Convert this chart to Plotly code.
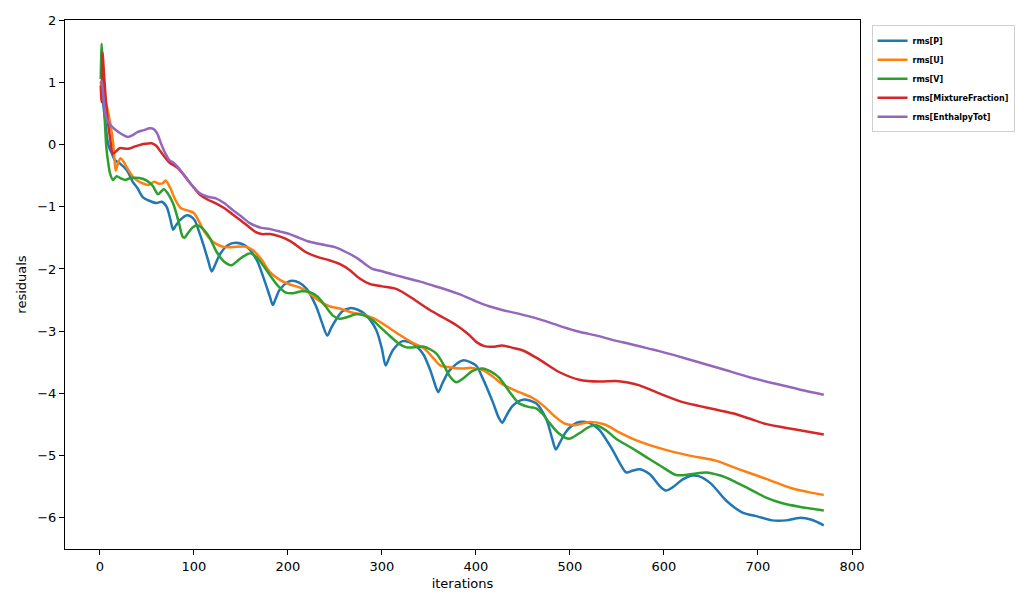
import plotly.graph_objects as go

# ---------------- data ----------------
p_it = [1,2,4,6,8,10,13,16,21,29,35,40,46,52,60,66,71,75,78,81,85,92,97,101,106,110,115,119,123,128,136,145,156,167,175,181,184,187,191,200,205,212,220,230,236,242,246,251,258,266,275,283,294,300,304,308,312,322,333,344,352,357,360,364,372,386,400,407,418,424,428,432,439,450,464,475,481,485,489,494,499,510,520,531,545,553,560,567,574,585,595,602,610,620,630,637,650,666,683,700,715,730,744,757,770]
p_val = [1.0,0.95,0.6,0.35,0.08,-0.05,-0.15,-0.25,-0.30,-0.42,-0.6,-0.7,-0.85,-0.9,-0.94,-0.92,-1.0,-1.2,-1.37,-1.3,-1.22,-1.14,-1.16,-1.22,-1.42,-1.6,-1.85,-2.04,-1.92,-1.76,-1.62,-1.58,-1.64,-1.86,-2.18,-2.45,-2.58,-2.48,-2.34,-2.21,-2.19,-2.22,-2.32,-2.6,-2.85,-3.07,-2.95,-2.82,-2.68,-2.63,-2.66,-2.74,-2.98,-3.28,-3.55,-3.42,-3.3,-3.16,-3.2,-3.37,-3.65,-3.88,-3.98,-3.85,-3.63,-3.47,-3.55,-3.75,-4.14,-4.38,-4.47,-4.37,-4.2,-4.1,-4.16,-4.42,-4.72,-4.9,-4.8,-4.66,-4.56,-4.46,-4.47,-4.58,-4.9,-5.12,-5.27,-5.24,-5.22,-5.3,-5.48,-5.56,-5.5,-5.38,-5.32,-5.33,-5.45,-5.72,-5.91,-5.98,-6.04,-6.04,-6.0,-6.03,-6.12]

u_it = [1,3,5,8,11,14,16,17,19,22,25,30,37,45,52,58,63,67,70,75,80,86,93,100,106,112,120,130,140,154,163,172,181,192,202,213,222,232,244,256,268,280,292,308,320,332,345,354,362,372,385,396,408,418,428,446,460,472,484,494,505,521,537,553,570,600,627,655,680,708,735,755,770]
u_val = [1.0,0.85,0.75,0.58,0.35,0.05,-0.3,-0.42,-0.32,-0.22,-0.27,-0.4,-0.55,-0.62,-0.65,-0.6,-0.63,-0.62,-0.58,-0.7,-0.88,-1.02,-1.06,-1.1,-1.25,-1.42,-1.56,-1.64,-1.65,-1.64,-1.7,-1.85,-2.05,-2.18,-2.25,-2.3,-2.38,-2.5,-2.6,-2.64,-2.7,-2.73,-2.8,-2.95,-3.07,-3.18,-3.28,-3.42,-3.55,-3.58,-3.6,-3.59,-3.63,-3.73,-3.85,-3.98,-4.07,-4.2,-4.37,-4.48,-4.51,-4.46,-4.5,-4.63,-4.75,-4.9,-5.0,-5.08,-5.22,-5.37,-5.52,-5.59,-5.63]

v_it = [1,2,3,5,7,9,11,14,18,23,27,33,42,50,56,62,65,68,72,78,84,88,90,94,99,104,110,117,124,132,140,148,159,166,174,181,190,198,205,215,223,232,240,248,255,262,272,280,290,298,308,318,326,334,345,358,366,372,379,388,396,407,416,425,436,446,457,464,471,478,488,499,510,519,528,539,549,566,584,600,613,628,645,660,673,690,708,725,744,770]
v_val = [1.05,1.62,1.2,0.5,-0.05,-0.3,-0.47,-0.57,-0.51,-0.55,-0.57,-0.54,-0.54,-0.58,-0.66,-0.8,-0.76,-0.72,-0.78,-0.95,-1.25,-1.48,-1.5,-1.42,-1.33,-1.3,-1.36,-1.5,-1.72,-1.88,-1.94,-1.85,-1.75,-1.8,-1.95,-2.1,-2.28,-2.38,-2.39,-2.36,-2.37,-2.45,-2.6,-2.75,-2.8,-2.78,-2.73,-2.74,-2.82,-2.93,-3.07,-3.2,-3.26,-3.26,-3.25,-3.36,-3.55,-3.72,-3.82,-3.74,-3.64,-3.6,-3.65,-3.75,-3.98,-4.16,-4.22,-4.24,-4.33,-4.47,-4.64,-4.73,-4.64,-4.55,-4.51,-4.6,-4.73,-4.88,-5.05,-5.2,-5.31,-5.3,-5.27,-5.32,-5.4,-5.53,-5.67,-5.76,-5.82,-5.88]

mf_it = [1,2,3,4,6,8.5,11,14,18,21,30,36,42,48,55,60,64,69,74,83,90,96,106,114,124,133,141,150,159,166,172,181,192,202,210,218,232,244,255,266,276,287,300,315,324,335,351,365,379,392,401,409,418,428,440,450,468,489,510,531,549,560,574,595,620,637,655,673,690,708,740,770]
mf_val = [0.95,0.68,1.48,1.25,0.8,0.38,0.1,-0.15,-0.1,-0.06,-0.07,-0.04,-0.01,0.01,0.02,-0.02,-0.1,-0.2,-0.29,-0.38,-0.5,-0.62,-0.8,-0.88,-0.95,-1.03,-1.12,-1.22,-1.33,-1.41,-1.44,-1.44,-1.48,-1.55,-1.63,-1.72,-1.81,-1.86,-1.92,-2.02,-2.15,-2.24,-2.28,-2.32,-2.39,-2.5,-2.66,-2.78,-2.9,-3.05,-3.18,-3.24,-3.25,-3.23,-3.27,-3.31,-3.46,-3.66,-3.78,-3.81,-3.8,-3.82,-3.87,-4.0,-4.14,-4.2,-4.26,-4.32,-4.4,-4.49,-4.58,-4.66]

h_it = [1,2,3,5,7,10,14,18,24,30,35,40,47,53,57,61,65,69,74,79,84,90,96,106,115,124,133,141,150,159,166,172,181,192,202,212,222,234,250,258,266,276,282,290,298,310,322,340,355,368,383,400,414,428,443,468,492,510,531,545,565,584,595,610,637,660,691,720,745,770]
h_val = [1.0,1.02,0.9,0.6,0.42,0.34,0.27,0.22,0.16,0.12,0.15,0.2,0.23,0.26,0.25,0.18,0.02,-0.12,-0.25,-0.3,-0.38,-0.5,-0.62,-0.78,-0.84,-0.87,-0.95,-1.05,-1.15,-1.26,-1.31,-1.34,-1.36,-1.4,-1.44,-1.5,-1.56,-1.6,-1.65,-1.7,-1.76,-1.85,-1.92,-2.0,-2.03,-2.08,-2.13,-2.2,-2.27,-2.33,-2.41,-2.52,-2.6,-2.66,-2.71,-2.81,-2.93,-3.01,-3.08,-3.14,-3.21,-3.28,-3.32,-3.38,-3.5,-3.6,-3.74,-3.85,-3.94,-4.02]

series_names = ["rms[P]", "rms[U]", "rms[V]", "rms[MixtureFraction]", "rms[EnthalpyTot]"]
series_x = [p_it, u_it, v_it, mf_it, h_it]
series_y = [p_val, u_val, v_val, mf_val, h_val]
colors = ["#1f77b4", "#ff7f0e", "#2ca02c", "#d62728", "#9467bd"]

x_ticks = [0, 100, 200, 300, 400, 500, 600, 700, 800]
y_ticks = [-6, -5, -4, -3, -2, -1, 0, 1, 2]
y_tick_text = [("\u2212" + str(-t)) if t < 0 else str(t) for t in y_ticks]

# ---------------- figure ----------------
fig = go.Figure()
for name, xs, ys, c in zip(series_names, series_x, series_y, colors):
    fig.add_trace(go.Scatter(x=xs, y=ys, mode="lines", name=name,
                             line=dict(color=c, width=2.5, shape="spline", smoothing=0.8)))

axis_common = dict(showline=True, linecolor="black", linewidth=1, mirror=True,
                   ticks="outside", ticklen=5, tickwidth=1, tickcolor="black",
                   showgrid=False, zeroline=False,
                   tickfont=dict(family="DejaVu Sans", size=13, color="black"))

fig.update_layout(
    width=1018, height=607,
    margin=dict(l=65, r=158, t=20, b=58, autoexpand=False),
    paper_bgcolor="white", plot_bgcolor="white",
    font=dict(family="DejaVu Sans", size=13, color="black"),
    xaxis=dict(range=[-37, 808.5], tickvals=x_ticks,
               title=dict(text="iterations", standoff=6,
                          font=dict(family="DejaVu Sans", size=13)),
               **axis_common),
    yaxis=dict(range=[-6.5, 2.0], tickvals=y_ticks, ticktext=y_tick_text,
               title=dict(text="residuals", standoff=7,
                          font=dict(family="DejaVu Sans", size=13)),
               **axis_common),
    legend=dict(x=1.0145, y=0.99, xanchor="left", yanchor="top",
                bgcolor="white", bordercolor="#d0d0d0", borderwidth=1,
                font=dict(family="DejaVu Sans", size=8, color="black", weight="bold"),
                tracegroupgap=0),
)

fig.write_html("out.html")
